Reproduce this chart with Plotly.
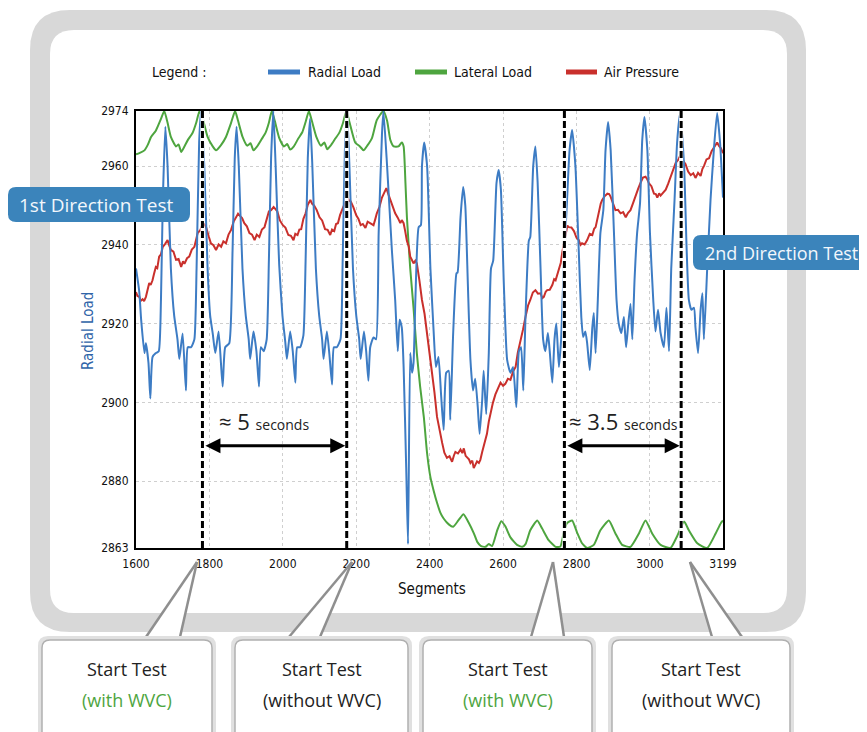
import plotly.graph_objects as go

# ---------------- data ----------------
radial_x = [1600, 1609, 1614, 1623, 1627, 1634, 1639, 1645, 1654, 1662, 1668, 1673, 1680,
            1686, 1695, 1704, 1713, 1718, 1727, 1736, 1741, 1750, 1759, 1765, 1772, 1777,
            1786, 1795, 1802, 1809, 1816, 1825, 1836, 1843, 1854, 1863, 1869, 1874,
            1880, 1890, 1899, 1907, 1911, 1920, 1928, 1935, 1940, 1948, 1956, 1962, 1968, 1974,
            1980, 1990, 1999, 2007, 2011, 2020, 2027, 2034, 2039, 2047, 2056, 2062, 2068, 2074,
            2080, 2090, 2099, 2107, 2111, 2120, 2127, 2134, 2139, 2147, 2157, 2163, 2169, 2175,
            2181, 2191, 2200, 2208, 2212, 2221, 2227, 2233, 2238, 2247, 2254, 2261, 2270, 2274,
            2284, 2297, 2306, 2313, 2318, 2324, 2329, 2336, 2341, 2347, 2352, 2356, 2361, 2370, 2376, 2379, 2385,
            2393, 2402, 2411, 2417, 2424, 2431, 2438, 2445, 2452, 2456, 2464, 2473, 2476, 2484, 2491,
            2497, 2504, 2511, 2518, 2524, 2531, 2536, 2543, 2547, 2554, 2561, 2567, 2573, 2582, 2588,
            2594, 2602, 2611, 2620, 2627, 2636, 2643, 2649, 2655, 2661, 2670, 2674, 2682, 2688,
            2694, 2702, 2709, 2715, 2722, 2727, 2734, 2740, 2745, 2752, 2758, 2765, 2774, 2781, 2788,
            2797, 2806, 2813, 2818, 2824, 2829, 2836, 2843, 2847, 2852, 2858, 2865, 2873, 2879, 2886,
            2893, 2902, 2909, 2915, 2922, 2929, 2935, 2941, 2947, 2952, 2958, 2965, 2973, 2979, 2985,
            2993, 3000, 3009, 3015, 3022, 3029, 3038, 3045, 3052, 3058, 3067, 3074, 3082,
            3093, 3100, 3106, 3113, 3120, 3124, 3131, 3138, 3143, 3147, 3156, 3165, 3174, 3183, 3191, 3197, 3199]
radial_y = [2934, 2928, 2921, 2912.5, 2915, 2910, 2901, 2911.5, 2912.5, 2913, 2926, 2951, 2970,
            2960, 2934, 2922, 2916, 2911, 2917.5, 2903, 2914, 2914, 2916, 2934, 2966, 2974,
            2960, 2934, 2922, 2917.5, 2912.5, 2918, 2904, 2914, 2915, 2938.5, 2962, 2970,
            2960, 2934, 2922, 2916, 2911, 2918, 2913, 2904, 2914, 2913, 2916, 2936, 2962, 2974,
            2961, 2935, 2922, 2915, 2911, 2918, 2913, 2905, 2914, 2914, 2917, 2936, 2962, 2972,
            2961, 2934, 2922, 2916, 2911, 2918, 2912, 2904.5, 2914, 2914, 2916, 2936, 2964, 2974,
            2961, 2934, 2922, 2916, 2911, 2918, 2913, 2905.5, 2914, 2916.5, 2916, 2943, 2968, 2974,
            2960, 2938.7, 2926, 2913, 2921, 2919, 2909, 2883.6, 2864, 2912.5, 2907.5, 2910, 2926, 2944.5, 2945, 2960, 2966,
            2960, 2934, 2917.6, 2909, 2911.5, 2902, 2893, 2907.5, 2908, 2895.5, 2917.6, 2932.8, 2933, 2947, 2954.7,
            2950, 2930, 2910.8, 2903, 2906, 2898.8, 2892, 2900.6, 2908, 2897, 2912.5, 2934, 2936, 2955.7, 2959,
            2954, 2930, 2910.8, 2907.5, 2909, 2898.8, 2913, 2914, 2903, 2921.7, 2941, 2942, 2960, 2965,
            2956, 2934, 2916, 2913, 2917.6, 2913, 2905, 2916, 2920, 2909, 2916, 2934, 2951, 2964, 2969.2,
            2960, 2938.7, 2921.7, 2916.6, 2918, 2915, 2908.2, 2919, 2922.7, 2912.5, 2926, 2943, 2948.8, 2964, 2971.2,
            2964, 2943, 2926, 2920, 2917.6, 2921.7, 2914, 2920, 2925, 2916, 2931, 2943, 2950.6, 2966.6, 2972.5,
            2964, 2943, 2926, 2918, 2923.5, 2917.6, 2914, 2924, 2913, 2934, 2951.4, 2966, 2973.5,
            2960, 2938.7, 2926, 2923.5, 2924, 2919, 2912.5, 2923.5, 2927.7, 2916, 2934, 2951.4, 2964, 2973.5, 2966, 2955.7, 2952]

lateral_x = [1600, 1609, 1623, 1632, 1641, 1654, 1668, 1677, 1686, 1695, 1709, 1716, 1723, 1732, 1741, 1754,
             1764, 1773, 1782, 1795, 1809, 1818, 1832, 1845, 1859, 1870,
             1878, 1890, 1903, 1912, 1920, 1930, 1942, 1953, 1962, 1970,
             1978, 1990, 2003, 2012, 2020, 2030, 2042, 2053, 2062, 2071,
             2079, 2091, 2104, 2113, 2121, 2131, 2143, 2154, 2164, 2173,
             2182, 2197, 2210, 2220, 2230, 2243, 2256, 2274,
             2284, 2293, 2302, 2315, 2324, 2329, 2334, 2338, 2347, 2356, 2365, 2374, 2384, 2393, 2402,
             2411, 2420, 2429, 2438, 2452, 2464, 2478, 2492, 2506, 2520, 2530, 2540, 2552, 2561, 2570,
             2584, 2595, 2606, 2620, 2638, 2652, 2661, 2674, 2693, 2706, 2724, 2743, 2756, 2765, 2774,
             2788, 2802, 2815, 2829, 2847, 2865, 2888, 2906, 2924, 2947, 2970, 2988, 3006, 3029, 3056,
             3074, 3093, 3106, 3129, 3156, 3179, 3193, 3199]
lateral_y = [2963, 2963.3, 2964, 2965.4, 2967.4, 2969, 2972, 2974, 2971, 2967.4, 2965, 2965.5, 2963.6, 2965, 2966.6, 2968.4,
             2971, 2974, 2972, 2967.4, 2965, 2964, 2965.4, 2967.4, 2971, 2974,
             2971.5, 2967.5, 2965.2, 2965.8, 2964, 2965, 2966.8, 2968.5, 2971, 2974,
             2971.5, 2967.2, 2965, 2965.6, 2964.2, 2965, 2967, 2968.6, 2971.2, 2974,
             2971.5, 2967.5, 2965.2, 2966, 2964.3, 2965.3, 2967, 2968.5, 2971, 2974,
             2971, 2966, 2965, 2964, 2965.2, 2967.2, 2971.7, 2974,
             2971.5, 2966.6, 2965, 2965, 2966, 2965, 2955.7, 2947, 2934, 2924, 2912.5, 2904, 2896.3, 2887, 2881,
             2877.5, 2874.5, 2872, 2870.5, 2869, 2868.4, 2870, 2871.6, 2869.5, 2866.8, 2864.5, 2863.5, 2863.3, 2864, 2863.5,
             2867.5, 2869.8, 2868.5, 2865.7, 2863.8, 2863.3, 2864, 2867.5, 2870, 2868, 2865, 2863.3, 2863.4, 2866.8, 2869.3,
             2870, 2866.8, 2864.2, 2863, 2863.8, 2867.5, 2870, 2866.7, 2863.8, 2863.3, 2866.7, 2870, 2866.7, 2863.8, 2863,
             2866, 2869.7, 2867.5, 2864.2, 2863, 2866.7, 2869.3, 2870]

pressure_x = [1600, 1604, 1609, 1613, 1618, 1622, 1627, 1631, 1636, 1640, 1645, 1649, 1654, 1658, 1663, 1668,
              1673, 1679, 1686, 1690, 1695, 1702, 1709, 1716, 1723, 1728, 1732, 1739, 1745, 1752, 1759, 1764,
              1768, 1775, 1782, 1787, 1791, 1798, 1804, 1811, 1818, 1825, 1832, 1838, 1845, 1852, 1859, 1866,
              1873, 1878, 1882, 1889, 1895, 1902, 1909, 1916, 1923, 1929, 1936, 1943, 1950, 1956, 1962, 1968,
              1975, 1980, 1985, 1992, 2000, 2007, 2015, 2022, 2029, 2034, 2040, 2045, 2050, 2056, 2062, 2068,
              2075, 2080, 2085, 2092, 2100, 2107, 2115, 2122, 2129, 2134, 2140, 2145, 2150, 2156, 2162, 2168,
              2175, 2180, 2185, 2192, 2200, 2206, 2212, 2218, 2225, 2231, 2238, 2247, 2252, 2256, 2263, 2270,
              2276, 2282, 2288, 2293, 2300, 2306, 2313, 2320, 2324, 2329, 2333, 2338, 2343, 2347, 2352, 2356,
              2361, 2365, 2372, 2379, 2386, 2393, 2400, 2406, 2413, 2420, 2427, 2434, 2440, 2447, 2454, 2461,
              2466, 2470, 2477, 2484, 2489, 2493, 2498, 2502, 2507, 2511, 2516, 2520, 2525, 2529, 2534, 2538,
              2543, 2547, 2552, 2556, 2561, 2565, 2572, 2579, 2586, 2593, 2600, 2606, 2613, 2620, 2627, 2634,
              2640, 2647, 2654, 2661, 2668, 2674, 2681, 2688, 2695, 2702, 2707, 2711, 2716, 2720, 2727, 2734,
              2739, 2743, 2748, 2752, 2757, 2761, 2766, 2770, 2775, 2779, 2786, 2793, 2800, 2806, 2811, 2815,
              2822, 2829, 2836, 2843, 2848, 2852, 2857, 2861, 2866, 2870, 2877, 2884, 2889, 2893, 2899, 2906,
              2913, 2920, 2927, 2934, 2940, 2947, 2954, 2961, 2968, 2974, 2981, 2988, 2993, 2997, 3004, 3011,
              3016, 3020, 3025, 3029, 3036, 3043, 3050, 3056, 3063, 3070, 3077, 3083, 3090, 3097, 3104, 3111,
              3118, 3124, 3131, 3138, 3143, 3147, 3154, 3161, 3168, 3174, 3179, 3183, 3188, 3193, 3199]
pressure_y = [2928, 2927, 2926.8, 2925.8, 2926.2, 2925.7, 2926.8, 2928.5, 2930.3, 2929.8, 2931, 2932.6, 2934.4, 2934.1, 2937, 2937.6,
              2939.5, 2940.2, 2941.2, 2940, 2938.7, 2938.3, 2936.2, 2936.4, 2934.4, 2935.8, 2935.2, 2936.6, 2937, 2938.8, 2939.5, 2941.4,
              2943, 2943.7, 2945.5, 2945.1, 2944.5, 2942.2, 2940.4, 2939.9, 2938.7, 2940.1, 2939.5, 2940.9, 2940.4, 2942.6, 2943.8, 2945.9,
              2947, 2947.9, 2947.5, 2946.8, 2945.5, 2944.7, 2943, 2942.6, 2941.2, 2942.6, 2942, 2943.9, 2944.5, 2946.9, 2948.5, 2948.8,
              2949.6, 2949.1, 2948.5, 2946.2, 2945, 2944.4, 2942.5, 2942.3, 2941.2, 2942.8, 2942.5, 2943.9, 2944, 2946.6, 2948, 2950.2,
              2951.4, 2950.4, 2950, 2948.9, 2947, 2946.2, 2944, 2943.8, 2942.5, 2943.9, 2943.5, 2945.3, 2945.5, 2947.6, 2949, 2950.4,
              2952, 2951.3, 2951, 2949.6, 2947.5, 2946.6, 2945, 2945.3, 2944.3, 2945.9, 2945.5, 2945, 2946.6, 2948, 2949.6, 2952,
              2953.2, 2954.4, 2952.7, 2951.4, 2949.6, 2948, 2946.9, 2945.5, 2946.3, 2945.5, 2943.6, 2941, 2939.6, 2937, 2936.1, 2935.3,
              2936, 2935.3, 2931, 2926, 2922.5, 2917.6, 2912, 2907.5, 2902.5, 2896.3, 2892.5, 2889.7, 2887.2, 2885.9, 2886.3, 2884.9,
              2886.5, 2887.4, 2887, 2888, 2887.1, 2888.3, 2886.4, 2885.9, 2885.5, 2884.6, 2885.2, 2883.3, 2884.4, 2885, 2884.6, 2885.4,
              2887.4, 2888.7, 2890.1, 2892, 2895.1, 2897, 2899.8, 2902, 2903.4, 2905, 2904.2, 2904.7, 2906, 2905.7, 2907.8, 2909,
              2912.6, 2916, 2918.4, 2921.7, 2924.6, 2926, 2927.9, 2928.5, 2927.6, 2927.7, 2926.5, 2926.8, 2928.1, 2928.5, 2928.6, 2929.8,
              2931.3, 2931, 2932.8, 2934, 2935.4, 2938, 2940.8, 2943, 2944.9, 2944.5, 2944.4, 2943.5, 2941.8, 2941.2, 2940, 2940.4,
              2940.1, 2941.2, 2942.8, 2942.5, 2944.1, 2944.5, 2946.7, 2948.8, 2950.5, 2951.4, 2952.4, 2953, 2952.9, 2952.2, 2950.8, 2948.8,
              2948.9, 2948, 2948.3, 2947, 2948.1, 2948.8, 2950.6, 2952.2, 2954.3, 2955.7, 2957.1, 2957.3, 2956.6, 2955.7, 2954.9, 2953,
              2952.9, 2952, 2953.1, 2952.5, 2953.2, 2954, 2955.6, 2957.3, 2959.4, 2960.8, 2961.6, 2962.8, 2961.4, 2960.5, 2958.6, 2957.7,
              2958.2, 2957, 2958.3, 2957.5, 2959.3, 2960, 2961.7, 2962, 2963.8, 2964.6, 2965.3, 2966, 2965.1, 2964.6, 2963.3]

x_ticks = [1600, 1800, 2000, 2200, 2400, 2600, 2800, 3000, 3199]
y_ticks = [2863, 2880, 2900, 2920, 2940, 2960, 2974]
test_starts = [1781, 2174, 2767, 3085]
cycle_marks = [1654, 1750, 1846, 1946, 2047, 2148, 2249, 2418, 2519, 2620, 2721, 2816, 2917, 3018, 3119]
span_labels = ["≈ 5", "≈ 3.5"]
box_titles = ["Start Test", "Start Test", "Start Test", "Start Test"]
box_notes = ["(with WVC)", "(without WVC)", "(with WVC)", "(without WVC)"]

# ---------------- style ----------------
BLUE = "#3d7cc4"
GREEN = "#4ea53f"
RED = "#c9302c"
COND = "Liberation Sans Narrow, DejaVu Sans Condensed, Arial Narrow, sans-serif"
HUM = "Open Sans, Lato, Noto Sans, sans-serif"
PAGE_OFF = 8                      # default body margin of the html page
W, H = 867 - PAGE_OFF, 732 - PAGE_OFF
L, T, PW, PH = 136, 111, 587, 437  # plot area in page pixels


def px(x):
    return (x - L) / PW


def py(y):
    return (T + PH - y) / PH


def rrect(x0, y0, x1, y1, r):
    pts = [
        ("M", (x0 + r, y0)), ("L", (x1 - r, y0)), ("Q", (x1, y0), (x1, y0 + r)),
        ("L", (x1, y1 - r)), ("Q", (x1, y1), (x1 - r, y1)), ("L", (x0 + r, y1)),
        ("Q", (x0, y1), (x0, y1 - r)), ("L", (x0, y0 + r)), ("Q", (x0, y0), (x0 + r, y0)),
    ]
    s = ""
    for p in pts:
        s += p[0] + " " + " ".join(f"{px(a):.5f},{py(b):.5f}" for a, b in p[1:]) + " "
    return s + "Z"


def poly(points):
    return "M " + " L ".join(f"{px(a):.5f},{py(b):.5f}" for a, b in points) + " Z"


def note(x, y, text, size, color="#222", family=HUM, **kw):
    d = dict(xref="paper", yref="paper", x=px(x), y=py(y), text=text, showarrow=False,
             xanchor="center", yanchor="middle", font=dict(family=family, size=size, color=color))
    d.update(kw)
    return d


fig = go.Figure()
fig.add_trace(go.Scatter(x=lateral_x, y=lateral_y, mode="lines", name="Lateral Load",
                         line=dict(color=GREEN, width=2, shape="spline", smoothing=0.5)))
fig.add_trace(go.Scatter(x=pressure_x, y=pressure_y, mode="lines", name="Air Pressure",
                         line=dict(color=RED, width=2)))
fig.add_trace(go.Scatter(x=radial_x, y=radial_y, mode="lines", name="Radial Load",
                         line=dict(color=BLUE, width=2, shape="spline", smoothing=0.5)))
fig.add_trace(go.Scatter(x=cycle_marks, y=[2975.8] * len(cycle_marks), mode="markers",
                         marker=dict(symbol="triangle-down", size=8, color="black"),
                         cliponaxis=False, hoverinfo="skip"))

shapes = []
# outer rounded grey frame
shapes.append(dict(type="path", xref="paper", yref="paper", path=rrect(30, 10, 806, 632, 40),
                   fillcolor="#d8d8d8", line=dict(width=0), layer="below"))
shapes.append(dict(type="path", xref="paper", yref="paper", path=rrect(50, 30, 787, 613, 24),
                   fillcolor="white", line=dict(width=0), layer="below"))

# callout tails
tails = [((146, 637), (197, 562), (180, 637)),
         ((289, 637), (352, 562), (320, 637)),
         ((531, 637), (553, 562), (564, 637)),
         ((712, 637), (690, 562), (742, 637))]
for a, tip, b in tails:
    shapes.append(dict(type="path", xref="paper", yref="paper", path=poly([a, tip, b]),
                       fillcolor="white", line=dict(width=0), layer="above"))
    for e in (a, b):
        shapes.append(dict(type="line", xref="paper", yref="paper", x0=px(e[0]), y0=py(e[1]),
                           x1=px(tip[0]), y1=py(tip[1]), line=dict(color="#8f8f8f", width=2.5),
                           layer="above"))

# bottom boxes
boxes = [(42, 212), (235, 408), (423, 592), (612, 790)]
for x0, x1 in boxes:
    shapes.append(dict(type="path", xref="paper", yref="paper", path=rrect(x0 - 4, 636, x1 + 4, 745, 10),
                       fillcolor="#e0e0e0", line=dict(width=0), layer="above"))
    shapes.append(dict(type="path", xref="paper", yref="paper", path=rrect(x0, 640, x1, 745, 8),
                       fillcolor="white", line=dict(color="#b0b0b0", width=1.5), layer="above"))

# direction labels
shapes.append(dict(type="path", xref="paper", yref="paper", path=rrect(8, 187, 190, 222, 8),
                   fillcolor="#3b84bb", line=dict(width=0), layer="above"))
shapes.append(dict(type="path", xref="paper", yref="paper", path=rrect(693, 235, 875, 270, 8),
                   fillcolor="#3b84bb", line=dict(width=0), layer="above"))

# test-start dashed lines
for xs in test_starts:
    shapes.append(dict(type="line", xref="x", yref="paper", x0=xs, x1=xs, y0=0, y1=1,
                       line=dict(color="white", width=4), layer="above"))
    shapes.append(dict(type="line", xref="x", yref="paper", x0=xs, x1=xs, y0=0, y1=1,
                       line=dict(color="black", width=3, dash="7px,3px"), layer="above"))

# legend line samples
leg = [(268, 300, BLUE), (415, 447, GREEN), (566, 597, RED)]
for a, b, c in leg:
    shapes.append(dict(type="line", xref="paper", yref="paper", x0=px(a), x1=px(b), y0=py(72), y1=py(72),
                       line=dict(color=c, width=5)))

ann = []
ann.append(note(150, 72, "Legend :", 14, "#111", COND, xanchor="left"))
for xl, txt in [(306, "Radial Load"), (452, "Lateral Load"), (602, "Air Pressure")]:
    ann.append(note(xl, 72, txt, 14, "#111", COND, xanchor="left"))
ann.append(note(88, 331, "Radial Load", 15, "#2f64a8", COND, textangle=-90))
ann.append(note(432, 589, "Segments", 15, "#111", COND))

# span arrows
for (xa, xb), lab, xc in [((test_starts[0], test_starts[1]), span_labels[0], 1949),
                          ((test_starts[2], test_starts[3]), span_labels[1], 2928)]:
    ann.append(dict(x=xb - 4, y=2889, ax=xa + 4, ay=2889, xref="x", yref="y", axref="x", ayref="y",
                    text="", showarrow=True, arrowhead=2, startarrowhead=2, arrowside="end+start",
                    arrowwidth=3, arrowsize=1, startarrowsize=1, arrowcolor="black"))
    ann.append(dict(x=xc, y=2895.3, xref="x", yref="y", showarrow=False, xanchor="center", yanchor="middle",
                    text=lab + " <span style='font-size:14px'>seconds</span>",
                    font=dict(family=HUM, size=22, color="#222")))

ann.append(note(96, 205, "1st Direction Test", 19, "#f2f7fc"))
ann.append(note(781, 253, "2nd Direction Test", 18, "#f2f7fc"))

for (x0, x1), t1, t2 in zip(boxes, box_titles, box_notes):
    cx = (x0 + x1) / 2
    ann.append(note(cx, 669, t1, 18, "#222"))
    ann.append(note(cx, 700, t2, 18, GREEN if t2 == "(with WVC)" else "#222"))

fig.update_layout(
    width=W, height=H,
    margin=dict(l=L - PAGE_OFF, r=W - (L - PAGE_OFF) - PW, t=T - PAGE_OFF, b=H - (T - PAGE_OFF) - PH, pad=0),
    paper_bgcolor="white", plot_bgcolor="rgba(0,0,0,0)", showlegend=False,
    shapes=shapes, annotations=ann,
)
fig.update_xaxes(range=[1600, 3199], tickvals=x_ticks, ticktext=[str(v) for v in x_ticks],
                 showline=True, linecolor="black", linewidth=2, mirror=True,
                 showgrid=True, gridcolor="#cfcfcf", griddash="dot", gridwidth=1, zeroline=False,
                 tickfont=dict(family=COND, size=12, color="#111"), ticks="", ticklabelstandoff=4)
fig.update_yaxes(range=[2863, 2974], tickvals=y_ticks, ticktext=[str(v) for v in y_ticks],
                 showline=True, linecolor="black", linewidth=2, mirror=True,
                 showgrid=True, gridcolor="#cfcfcf", griddash="dot", gridwidth=1, zeroline=False,
                 tickfont=dict(family=COND, size=12, color="#111"), ticks="", ticklabelstandoff=3)

fig.write_html("out.html")
